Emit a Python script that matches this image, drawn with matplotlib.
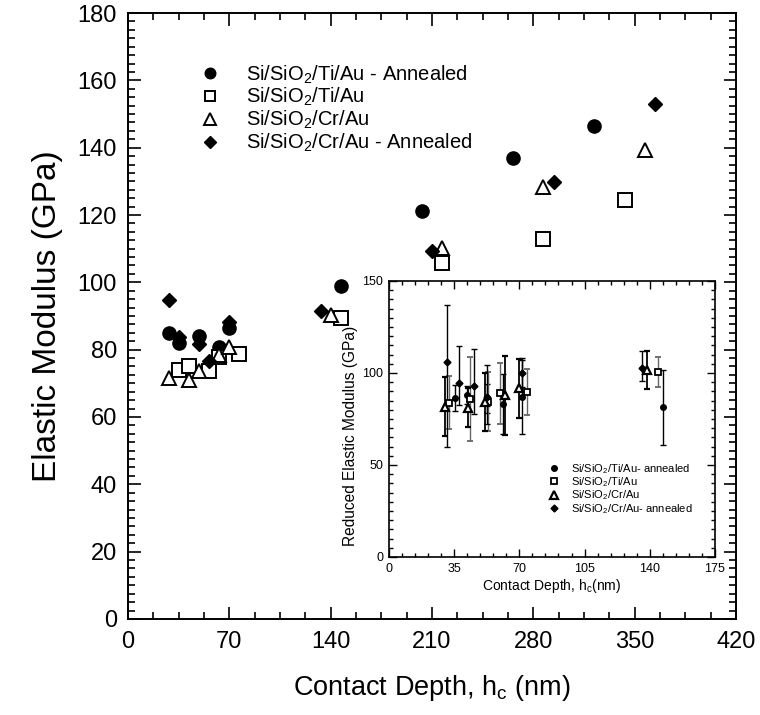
import numpy as np
import matplotlib
matplotlib.use('Agg')
import matplotlib.pyplot as plt
from matplotlib.ticker import MultipleLocator
from matplotlib.lines import Line2D

plt.rcParams['font.family'] = ['Liberation Sans', 'DejaVu Sans']
plt.rcParams['mathtext.fontset'] = 'custom'
plt.rcParams['mathtext.rm'] = 'Liberation Sans'
plt.rcParams['mathtext.it'] = 'Liberation Sans'

# main plot: elastic modulus vs contact depth
ti_ann_x = [28, 35, 49, 63, 70, 147, 203, 266, 322]
ti_ann_y = [85.0, 82.1, 84.2, 80.9, 86.3, 99.0, 121.2, 136.8, 146.5]
ti_x = [35, 42, 56, 63, 77, 147, 217, 287, 343]
ti_y = [74.0, 75.1, 73.8, 77.9, 78.6, 89.4, 105.8, 112.9, 124.5]
cr_x = [28, 42, 49, 63, 70, 140, 217, 287, 357]
cr_y = [71.5, 71.1, 73.8, 78.4, 80.9, 90.3, 110.1, 128.4, 139.3]
cr_ann_x = [28, 35, 49, 56, 70, 133, 210, 294, 364]
cr_ann_y = [94.8, 83.9, 81.7, 76.7, 88.3, 91.5, 109.4, 129.9, 152.9]

# inset: reduced modulus with error bars
in_ti_ann_x = [35.6, 41.7, 52.4, 61.0, 71.2, 147.3]
in_ti_ann_y = [86.6, 88.0, 86.0, 83.2, 86.8, 81.4]
in_ti_ann_e = [7.0, 5.0, 8.0, 16.5, 20.0, 20.3]
in_ti_x = [32.4, 43.5, 53.3, 59.6, 73.9, 144.2]
in_ti_y = [83.9, 85.9, 84.4, 89.0, 89.5, 100.7]
in_ti_e = [14.5, 22.6, 16.0, 16.6, 12.6, 8.2]
in_cr_x = [30.1, 42.2, 51.5, 62.3, 70.0, 138.7]
in_cr_y = [81.7, 81.1, 84.4, 88.0, 91.7, 101.6]
in_cr_e = [16.0, 10.6, 15.8, 21.5, 16.0, 10.4]
in_cr_ann_x = [31.0, 37.8, 45.8, 52.4, 71.2, 135.6]
in_cr_ann_y = [105.8, 94.4, 92.9, 87.1, 100.2, 102.9]
in_cr_ann_lo = [46.0, 12.0, 15.0, 15.0, 8.0, 7.5]
in_cr_ann_hi = [31.0, 20.0, 20.0, 17.0, 8.0, 9.0]

labels = ['Si/SiO$_2$/Ti/Au - Annealed', 'Si/SiO$_2$/Ti/Au',
          'Si/SiO$_2$/Cr/Au', 'Si/SiO$_2$/Cr/Au - Annealed']
in_labels = ['Si/SiO$_2$/Ti/Au- annealed', 'Si/SiO$_2$/Ti/Au',
             'Si/SiO$_2$/Cr/Au', 'Si/SiO$_2$/Cr/Au- annealed']

fig = plt.figure(figsize=(7.6, 7.15), dpi=100)
ax = fig.add_axes([0.1684, 0.1343, 0.8, 0.8475])

ax.plot(ti_ann_x, ti_ann_y, 'o', color='k', ms=9.5, label=labels[0])
ax.plot(ti_x, ti_y, 's', mfc='white', mec='k', mew=1.4, ms=9.5, label=labels[1])
ax.plot(cr_x, cr_y, '^', mfc='white', mec='k', mew=1.4, ms=10, label=labels[2])
ax.plot(cr_ann_x, cr_ann_y, 'D', color='k', ms=7.5, label=labels[3])

ax.set_xlim(0, 420)
ax.set_ylim(0, 180)
ax.xaxis.set_major_locator(MultipleLocator(70))
ax.xaxis.set_minor_locator(MultipleLocator(17.5))
ax.yaxis.set_major_locator(MultipleLocator(20))
ax.yaxis.set_minor_locator(MultipleLocator(2.5))
ax.tick_params(which='both', direction='in', top=True, right=True, labelsize=17, width=1.2)
ax.tick_params(which='major', length=9)
ax.tick_params(axis='x', which='major', pad=9)
ax.tick_params(axis='y', which='major', pad=8)
ax.tick_params(which='minor', length=5)
for s in ax.spines.values():
    s.set_linewidth(1.4)
ax.set_xlabel('Contact Depth, h$_c$ (nm)', fontsize=19.5, labelpad=14)
ax.set_ylabel('Elastic Modulus (GPa)', fontsize=24, labelpad=10)

ax.legend(loc='upper left', bbox_to_anchor=(0.089, 0.947), frameon=False,
          prop=dict(size=14.5), handletextpad=1.25, labelspacing=0.03,
          handlelength=1, markerscale=0.8)

# inset
ins = fig.add_axes([0.5118, 0.2210, 0.4289, 0.3860])
ins.errorbar(in_ti_ann_x, in_ti_ann_y, yerr=in_ti_ann_e, fmt='o', color='k', ms=4,
             ecolor='k', elinewidth=1, capsize=2.5)
ins.errorbar(in_ti_x, in_ti_y, yerr=in_ti_e, fmt='s', mfc='white', mec='k', mew=1.3, ms=5,
             ecolor='0.4', elinewidth=1, capsize=2.5)
ins.errorbar(in_cr_x, in_cr_y, yerr=in_cr_e, fmt='^', mfc='white', mec='k', mew=1.6, ms=5.5,
             ecolor='k', elinewidth=1.3, capsize=2.5)
ins.errorbar(in_cr_ann_x, in_cr_ann_y, yerr=[in_cr_ann_lo, in_cr_ann_hi], fmt='D', color='k', ms=3.5,
             ecolor='k', elinewidth=1, capsize=2.5)
ins.set_xlim(0, 175)
ins.set_ylim(0, 150)
ins.xaxis.set_major_locator(MultipleLocator(35))
ins.xaxis.set_minor_locator(MultipleLocator(7))
ins.yaxis.set_major_locator(MultipleLocator(50))
ins.yaxis.set_minor_locator(MultipleLocator(5))
ins.tick_params(which='both', direction='in', top=True, right=True, labelsize=9, width=1)
ins.tick_params(which='major', length=6, pad=4)
ins.tick_params(which='minor', length=3)
for s in ins.spines.values():
    s.set_linewidth(1.2)
ins.set_xlabel('Contact Depth, h$_c$(nm)', fontsize=10, labelpad=2)
ins.set_ylabel('Reduced Elastic Modulus (GPa)', fontsize=11.2)
ins.yaxis.set_label_coords(-0.095, 0.438)

handles = [Line2D([], [], ls='none', marker='o', color='k', ms=4),
           Line2D([], [], ls='none', marker='s', mfc='white', mec='k', mew=1.3, ms=5),
           Line2D([], [], ls='none', marker='^', mfc='white', mec='k', mew=1.6, ms=5.5),
           Line2D([], [], ls='none', marker='D', color='k', ms=3.5)]
ins.legend(handles, in_labels, loc='lower right', bbox_to_anchor=(0.945, 0.134), frameon=False,
           prop=dict(size=8), handletextpad=0.9, labelspacing=-0.05, handlelength=1.2,
           borderaxespad=0)

fig.savefig('out.png', dpi=100)
